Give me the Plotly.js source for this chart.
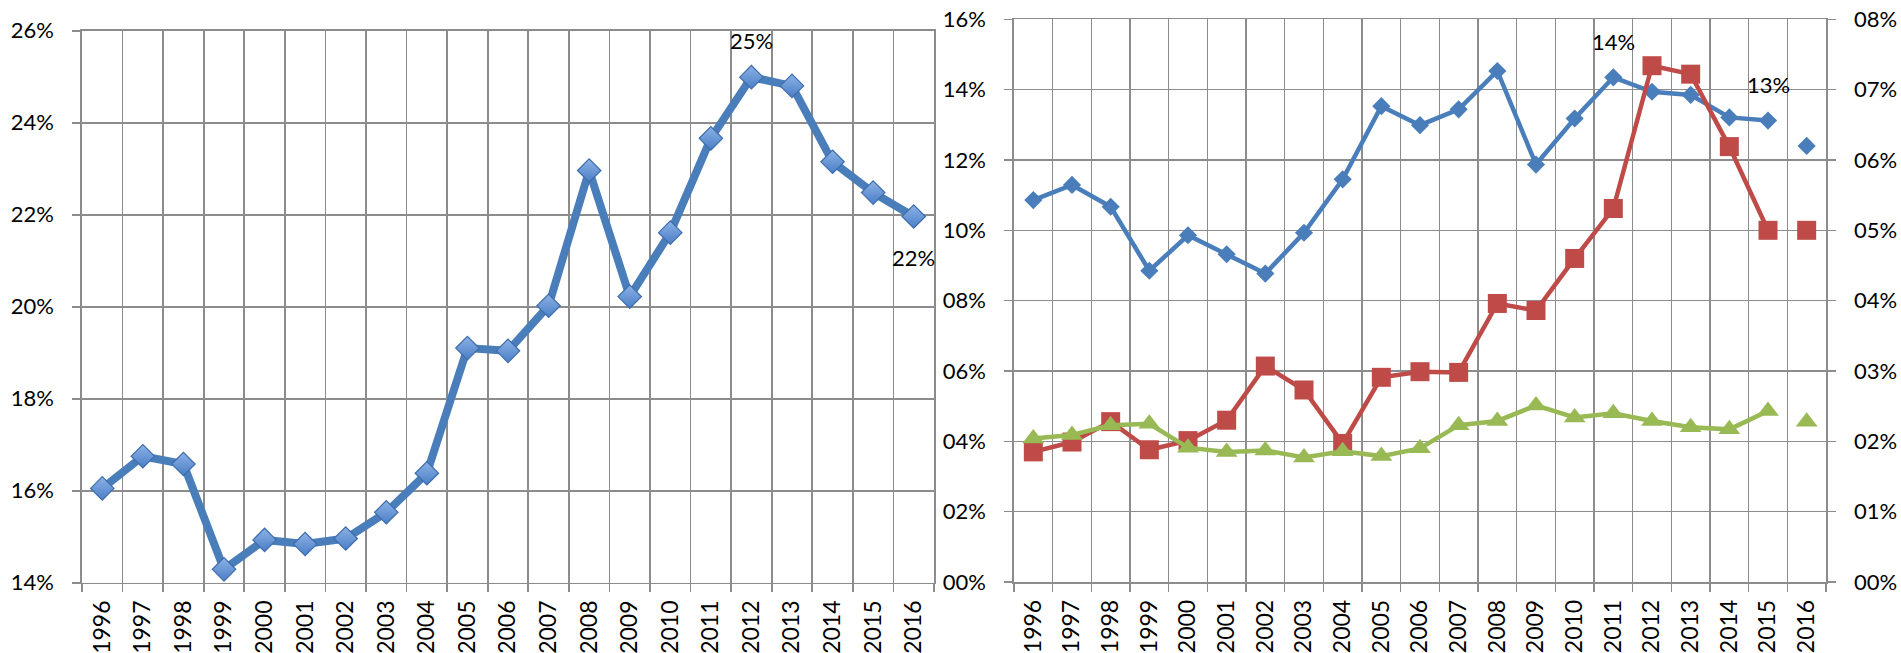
<!DOCTYPE html>
<html>
<head>
<meta charset="utf-8">
<script src="https://cdn.plot.ly/plotly-3.0.1.min.js"></script>
<style>
  html, body { margin: 0; padding: 0; background: #ffffff; }
  #chart { width: 1901px; height: 653px; }
</style>
</head>
<body>
<div id="chart"></div>
<script>
// ---- Data (percent values) ----
const years = ['1996','1997','1998','1999','2000','2001','2002','2003','2004','2005','2006',
               '2007','2008','2009','2010','2011','2012','2013','2014','2015','2016'];

const leftSeries  = [16.05,16.75,16.58,14.29,14.93,14.84,14.96,15.53,16.38,19.10,19.04,
                     20.02,22.96,20.22,21.61,23.66,24.99,24.80,23.15,22.48,21.96];

const blueSeries  = [10.86,11.29,10.67,8.85,9.86,9.32,8.77,9.93,11.45,13.53,12.99,
                     13.44,14.53,11.87,13.18,14.35,13.94,13.85,13.21,13.12,12.40];

const redSeries   = [1.85,1.99,2.28,1.88,2.01,2.30,3.07,2.73,1.97,2.91,2.99,
                     2.98,3.96,3.86,4.60,5.31,7.34,7.22,6.19,5.00,5.00];

const greenSeries = [2.04,2.09,2.23,2.25,1.91,1.85,1.87,1.77,1.86,1.79,1.90,
                     2.23,2.29,2.51,2.34,2.40,2.29,2.20,2.17,2.43,2.28];

// Tick labels
const leftTickVals   = [14,16,18,20,22,24,26];
const leftTickText   = ['14%','16%','18%','20%','22%','24%','26%'];
const rightLTickVals = [0,2,4,6,8,10,12,14,16];
const rightLTickText = ['00%','02%','04%','06%','08%','10%','12%','14%','16%'];
const rightRTickVals = [0,1,2,3,4,5,6,7,8];
const rightRTickText = ['00%','01%','02%','03%','04%','05%','06%','07%','08%'];

// Points carrying a value label
const leftLabelIdx  = [16, 20];
const blueLabelIdx  = [15, 19];

// ---- Styling ----
const FONT = 'Lato, "Open Sans", "Liberation Sans", sans-serif';
const GRID = '#8C8C8C';
const GW = 1.6;
const W = 1901, H = 653;

const lastIdx = years.length - 1;
const head = arr => arr.slice(0, lastIdx);
const tail = arr => arr.slice(lastIdx);

const traces = [
  {
    x: years, y: leftSeries, xaxis: 'x', yaxis: 'y',
    mode: 'lines+markers', type: 'scatter', cliponaxis: false,
    line: { color: '#4A7EBB', width: 8 },
    marker: { symbol: 'diamond', size: 18, color: '#8DB2E6',
              gradient: { type: 'vertical', color: '#4A7EC6' },
              line: { color: '#3D6CAB', width: 1.2 } }
  },
  // right chart: connected 1996-2015, 2016 stand-alone
  {
    x: head(years), y: head(blueSeries), xaxis: 'x2', yaxis: 'y2',
    mode: 'lines+markers', type: 'scatter', cliponaxis: false,
    line: { color: '#4A7EBB', width: 4.5 },
    marker: { symbol: 'diamond', size: 14, color: '#4A7EBB' }
  },
  {
    x: tail(years), y: tail(blueSeries), xaxis: 'x2', yaxis: 'y2',
    mode: 'markers', type: 'scatter', cliponaxis: false,
    marker: { symbol: 'diamond', size: 14, color: '#4A7EBB' }
  },
  {
    x: head(years), y: head(redSeries), xaxis: 'x2', yaxis: 'y3',
    mode: 'lines+markers', type: 'scatter', cliponaxis: false,
    line: { color: '#BE4B48', width: 4.5 },
    marker: { symbol: 'square', size: 19, color: '#BE4B48' }
  },
  {
    x: tail(years), y: tail(redSeries), xaxis: 'x2', yaxis: 'y3',
    mode: 'markers', type: 'scatter', cliponaxis: false,
    marker: { symbol: 'square', size: 19, color: '#BE4B48' }
  },
  {
    x: head(years), y: head(greenSeries), xaxis: 'x2', yaxis: 'y3',
    mode: 'lines+markers', type: 'scatter', cliponaxis: false,
    line: { color: '#98B954', width: 4.5 },
    marker: { symbol: 'triangle-up', size: 19, color: '#98B954' }
  },
  {
    x: tail(years), y: tail(greenSeries), xaxis: 'x2', yaxis: 'y3',
    mode: 'markers', type: 'scatter', cliponaxis: false,
    marker: { symbol: 'triangle-up', size: 19, color: '#98B954' }
  }
];

// Value labels: category axes take the category index in annotations
const annotations = [];
leftLabelIdx.forEach((i, k) => {
  annotations.push({
    x: i, y: leftSeries[i], xref: 'x', yref: 'y',
    text: Math.round(leftSeries[i]) + '%', showarrow: false,
    yshift: k === 0 ? 37 : -41, xanchor: 'center', yanchor: 'middle',
    font: { family: FONT, size: 22, color: '#000000' }
  });
});
blueLabelIdx.forEach(i => {
  annotations.push({
    x: i, y: blueSeries[i], xref: 'x2', yref: 'y2',
    text: Math.round(blueSeries[i]) + '%', showarrow: false,
    yshift: 36, xanchor: 'center', yanchor: 'middle',
    font: { family: FONT, size: 22, color: '#000000' }
  });
});

const xCommon = {
  type: 'category', range: [-0.5, years.length - 0.5],
  tickson: 'boundaries', ticks: 'outside', ticklen: 8, tickwidth: GW, tickcolor: GRID,
  showgrid: true, gridcolor: GRID, gridwidth: GW,
  showline: true, mirror: true, linecolor: GRID, linewidth: GW,
  tickangle: -90, tickfont: { family: FONT, size: 23, color: '#000000' },
  ticklabelstandoff: 7, zeroline: false, fixedrange: true
};
const yCommon = {
  ticks: 'outside', ticklen: 8, tickwidth: GW, tickcolor: GRID,
  showgrid: true, gridcolor: GRID, gridwidth: GW,
  showline: true, mirror: true, linecolor: GRID, linewidth: GW,
  tickfont: { family: FONT, size: 22, color: '#000000' },
  ticklabelstandoff: 14, zeroline: false, fixedrange: true
};

const layout = {
  width: W, height: H, autosize: false,
  margin: { l: 0, r: 0, t: 0, b: 0, pad: 0 },
  paper_bgcolor: '#ffffff', plot_bgcolor: '#ffffff',
  showlegend: false,
  font: { family: FONT, size: 22, color: '#000000' },
  xaxis: Object.assign({}, xCommon, { domain: [82 / W, 934 / W], anchor: 'y' }),
  yaxis: Object.assign({}, yCommon, {
    domain: [(H - 582.7) / H, (H - 30.7) / H], anchor: 'x',
    range: [14, 26], tickmode: 'array', tickvals: leftTickVals, ticktext: leftTickText
  }),
  xaxis2: Object.assign({}, xCommon, { domain: [1014 / W, 1826 / W], anchor: 'y2' }),
  yaxis2: Object.assign({}, yCommon, {
    domain: [(H - 582) / H, (H - 19.3) / H], anchor: 'x2',
    range: [0, 16], tickmode: 'array', tickvals: rightLTickVals, ticktext: rightLTickText
  }),
  yaxis3: Object.assign({}, yCommon, {
    overlaying: 'y2', side: 'right', anchor: 'x2', showgrid: false,
    range: [0, 8], tickmode: 'array', tickvals: rightRTickVals, ticktext: rightRTickText
  }),
  annotations: annotations
};

Plotly.newPlot('chart', traces, layout, { staticPlot: true, displayModeBar: false });
</script>
</body>
</html>
